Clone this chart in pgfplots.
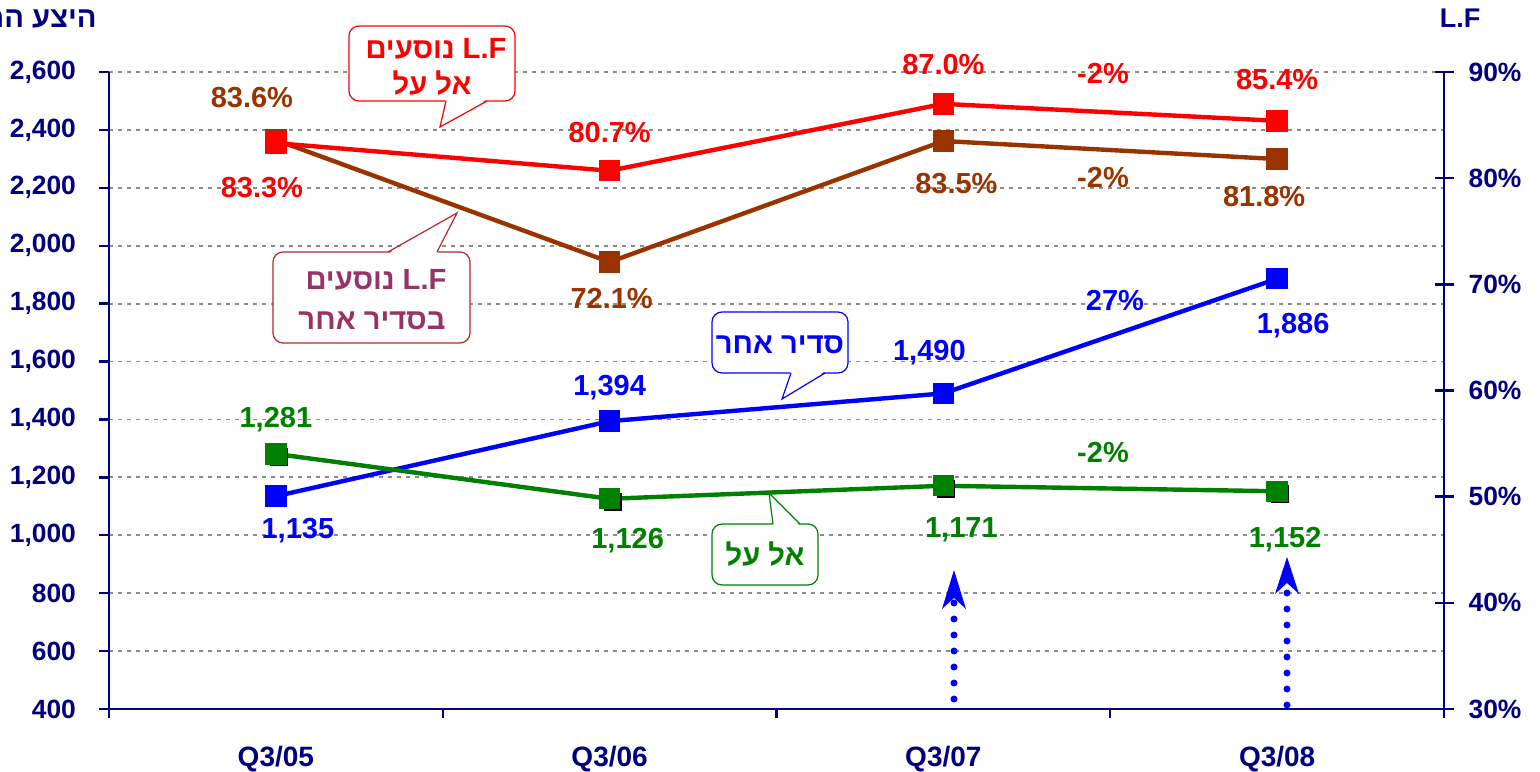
\documentclass[border=0pt]{standalone}
\usepackage{pgfplots}
\pgfplotsset{compat=1.18}
\usepackage{pgfplotstable}
\usepackage{fontspec}
\setmainfont{Liberation Sans}
\newfontfamily\hebfont[Script=Hebrew]{Liberation Sans}
\TeXXeTstate=1
\usetikzlibrary{arrows.meta}

\definecolor{navy}{HTML}{000080}
\definecolor{lfred}{HTML}{FF0000}
\definecolor{lfbrown}{HTML}{993300}
\definecolor{paxblue}{HTML}{0000FF}
\definecolor{paxgreen}{HTML}{008000}
\definecolor{plum}{HTML}{993366}
\definecolor{boxbrown}{HTML}{B02828}
\definecolor{gridgray}{HTML}{8C8C8C}

\newcommand\lblfont{\fontsize{14.5}{16}\selectfont\bfseries}
\newcommand\tickfont{\fontsize{13.2}{15}\selectfont\bfseries}
\newcommand\callfont{\hebfont\fontsize{14.6}{16}\selectfont\bfseries}

% passengers (left axis), label offsets dx/dy in pt
\pgfplotstableread{
x y dx dy
0 1135 11 -17
1 1394 0 17
2 1490 -7 20.5
3 1886 8 -23.5
}\otherpax
\pgfplotstableread{
x y dx dy
0 1281 0 17
1 1126 9 -21
2 1171 9 -22
3 1152 4 -24
}\elalpax
% load factor (right axis)
\pgfplotstableread{
x y dx dy
0 83.3 -7 -22
1 80.7 0 19
2 87.0 0 19.5
3 85.4 0 20.5
}\elallf
\pgfplotstableread{
x y dx dy
0 83.6 -12 21
1 72.1 1 -18
2 83.5 6.5 -21.5
3 81.8 -6.5 -18.5
}\otherlf

\pgfplotsset{
  /pgf/number format/assume math mode=true,
  lbl/.style={
    visualization depends on={\thisrow{dx} \as \ldx},
    visualization depends on={\thisrow{dy} \as \ldy},
    every node near coord/.append style={anchor=center,
      xshift=\ldx pt, yshift=\ldy pt, font=\lblfont, text=#1},
  },
  base/.style={
    scale only axis, width=667.5pt, height=318.5pt,
    at={(54.5pt,31pt)}, anchor=south west,
    xmin=-0.5, xmax=3.5, clip=false,
    axis line style={navy, line width=1.2pt},
    tick style={navy, line width=1.2pt},
    ticklabel style={font=\tickfont, text=navy},
  },
}

\begin{document}
\begin{tikzpicture}
\begin{axis}[base,
  ymin=400, ymax=2600, ytick={400,600,...,2600},
  axis x line*=bottom, axis y line*=left,
  tick align=outside, major tick length=5pt,
  yticklabel style={/pgf/number format/1000 sep={,}, xshift=-8pt},
  xtick={0,1,2,3}, xticklabels={Q3/05,Q3/06,Q3/07,Q3/08},
  major x tick style={draw=none},
  minor xtick={-0.5,0.5,1.5,2.5,3.5}, minor tick length=4.5pt,
  xticklabel style={anchor=north, inner sep=0pt, yshift=-13.3pt,
    font=\fontsize{14}{16}\selectfont\bfseries},
  ymajorgrids, grid style={gridgray, line width=0.9pt, dash pattern=on 2pt off 2.5pt},
]
\addplot[paxblue, line width=2.2pt, mark=square*, mark size=4.25pt,
  lbl=paxblue, nodes near coords={\pgfmathprintnumber[1000 sep={,}]{\pgfplotspointmeta}}]
  table[x=x,y=y] {\otherpax};
\addplot[only marks, black, mark=square*, mark size=4.25pt,
  mark options={xshift=1.5pt, yshift=-1.5pt}]
  table[x=x,y=y] {\elalpax};
\addplot[paxgreen, line width=2.2pt, mark=square*, mark size=4.25pt,
  lbl=paxgreen, nodes near coords={\pgfmathprintnumber[1000 sep={,}]{\pgfplotspointmeta}}]
  table[x=x,y=y] {\elalpax};
\end{axis}
\begin{axis}[base,
  ymin=30, ymax=90, ytick={30,40,...,90},
  axis x line=none, axis y line*=right,
  tick align=center, major tick length=9.5pt,
  yticklabel={\pgfmathprintnumber{\tick}\%},
  yticklabel style={xshift=4pt},
]
\addplot[lfbrown, line width=2.2pt, mark=square*, mark size=4.25pt,
  lbl=lfbrown, nodes near coords={\pgfmathprintnumber[fixed,precision=1,fixed zerofill]{\pgfplotspointmeta}\%}]
  table[x=x,y=y] {\otherlf};
\addplot[lfred, line width=2.2pt, mark=square*, mark size=4.25pt,
  lbl=lfred, nodes near coords={\pgfmathprintnumber[fixed,precision=1,fixed zerofill]{\pgfplotspointmeta}\%}]
  table[x=x,y=y] {\elallf};
\end{axis}

% annotations in pixel units of the 1540x771 reference (origin top left)
\begin{scope}[x=0.5pt, y=-0.5pt, shift={(0,385.5pt)}]
  % titles (the left one runs off the edge, as in the original)
  \node[anchor=east, inner sep=0pt, text=navy, font=\callfont] at (97,19) {\beginR היצע המושבים\endR};
  \node[inner sep=0pt, text=navy, font=\fontsize{13.5}{15}\selectfont\bfseries] at (1460,18) {L.F};
  % change labels
  \node[font=\lblfont, text=lfred] at (1103,73) {-2\%};
  \node[font=\lblfont, text=lfbrown] at (1103,177) {-2\%};
  \node[font=\lblfont, text=paxblue] at (1115,300) {27\%};
  \node[font=\lblfont, text=paxgreen] at (1103,452) {-2\%};
  % red callout
  \draw[lfred, fill=white, rounded corners=5pt, line width=0.6pt] (349,26) rectangle (515,101);
  \fill[white] (446,99) -- (440,127) -- (487,99) -- cycle;
  \draw[lfred, line width=0.6pt] (446,101) -- (440,127) -- (487,101);
  \node[text=lfred, font=\callfont] at (436,49) {\beginR\beginL L.F\endL{} נוסעים\endR};
  \node[text=lfred, font=\callfont] at (432,83) {\beginR אל על\endR};
  % brown callout
  \draw[boxbrown, fill=white, rounded corners=5pt, line width=0.6pt] (273,252) rectangle (470,343);
  \fill[white] (388,254) -- (457,213) -- (437,254) -- cycle;
  \draw[boxbrown, line width=0.6pt] (388,252) -- (457,213) -- (437,252);
  \node[text=plum, font=\callfont] at (376,280) {\beginR\beginL L.F\endL{} נוסעים\endR};
  \node[text=plum, font=\callfont] at (372,321) {\beginR בסדיר אחר\endR};
  % blue callout
  \draw[paxblue, fill=white, rounded corners=5pt, line width=0.6pt] (712,312) rectangle (848,373);
  \fill[white] (791,371) -- (782,399) -- (825,371) -- cycle;
  \draw[paxblue, line width=0.6pt] (791,373) -- (782,399) -- (825,373);
  \node[text=paxblue, font=\callfont] at (780,345) {\beginR סדיר אחר\endR};
  % green callout
  \draw[paxgreen, fill=white, rounded corners=5pt, line width=0.6pt] (712,524) rectangle (818,585);
  \fill[white] (773,526) -- (769,493) -- (800,526) -- cycle;
  \draw[paxgreen, line width=0.6pt] (773,524) -- (769,493) -- (800,524);
  \node[text=paxgreen, font=\callfont] at (765,554) {\beginR אל על\endR};
  % dotted arrows
  \draw[paxblue, line width=3.5pt, line cap=round, dash pattern=on 0pt off 8pt] (954,699) -- (954,603);
  \fill[paxblue] (954,570) -- (966,609) -- (954,598) -- (942,609) -- cycle;
  \draw[paxblue, line width=3.5pt, line cap=round, dash pattern=on 0pt off 8pt] (1287,705) -- (1287,593);
  \fill[paxblue] (1287,557) -- (1299,594) -- (1287,583) -- (1275,594) -- cycle;
\end{scope}
\pgfresetboundingbox
\path[use as bounding box] (0,0) rectangle (770pt,385.5pt);
\end{tikzpicture}
\end{document}
